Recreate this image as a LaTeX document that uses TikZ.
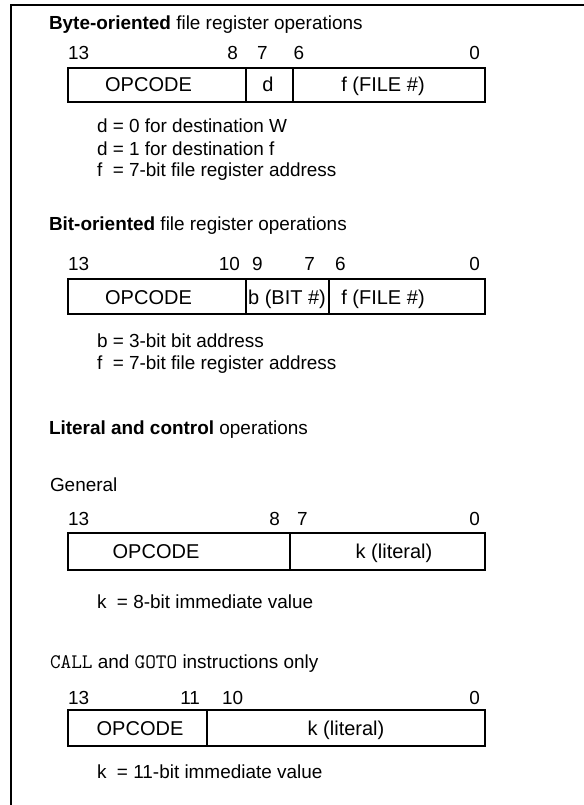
\documentclass[tikz,border=0pt]{standalone}
\usepackage{fontspec}
\setmainfont{Liberation Sans}
\begin{document}
\begin{tikzpicture}[x=0.75pt,y=-0.75pt,
  every node/.style={inner sep=0pt, outer sep=0pt, font=\fontsize{14.2}{17}\selectfont},
  cell/.style n args={2}{draw, line width=0.9pt, anchor=north west,
     minimum width=#1*0.75pt, minimum height=#2*0.75pt},
  ftext/.style={anchor=base, font=\fontsize{15}{18}\selectfont},
  bitl/.style={anchor=base west},
  bitr/.style={anchor=base east},
  ttl/.style={anchor=base west},
  note/.style={anchor=base west}]
\useasboundingbox (0,0) rectangle (584,805);
% frame
\coordinate (fb) at (11,805);
\coordinate (fc) at (11,5);
\coordinate (fr) at (584,5);
\draw[line width=1.6pt] (fb) -- (fc) -- (fr);

% ---- Byte-oriented
\node[ttl] (t1) at (49,30) {\textbf{Byte-oriented} file register operations};
\node[bitl] (a13) at (68,60) {13};
\node[bitr] (a8) at (238,60) {8};
\node[bitl] (a7) at (257,60) {7};
\node[bitl] (a6) at (293.5,60) {6};
\node[bitr] (a0) at (480,60) {0};
\node[cell={178}{34}] (c1a) at (68,68) {};
\node[cell={47}{34}] (c1b) at (c1a.north east) {};
\node[cell={192}{34}] (c1c) at (c1b.north east) {};
\node[ftext] (x1a) at (148.5,92) {OPCODE};
\node[ftext] (x1b) at (268,92) {d};
\node[ftext] (x1c) at (383,92) {f (FILE \#)};
\node[note] (n1a) at (97,133) {d = 0 for destination W};
\node[note] (n1b) at (97,156) {d = 1 for destination f};
\node[note] (n1c) at (97,177) {f~ = 7-bit file register address};

% ---- Bit-oriented
\node[ttl] (t2) at (49,231) {\textbf{Bit-oriented} file register operations};
\node[bitl] (b13) at (68,270) {13};
\node[bitr] (b10) at (240,270) {10};
\node[bitl] (b9) at (252,270) {9};
\node[bitr] (b7) at (315,270) {7};
\node[bitl] (b6) at (335,270) {6};
\node[bitr] (b0) at (480,270) {0};
\node[cell={178}{35}] (c2a) at (68,279) {};
\node[cell={83}{35}] (c2b) at (c2a.north east) {};
\node[cell={156}{35}] (c2c) at (c2b.north east) {};
\node[ftext] (x2a) at (148.5,304) {OPCODE};
\node[ftext] (x2b) at (287,304) {b (BIT \#)};
\node[ftext] (x2c) at (383,304) {f (FILE \#)};
\node[note] (n2a) at (97,347) {b = 3-bit bit address};
\node[note] (n2b) at (97,369) {f~ = 7-bit file register address};

% ---- Literal and control
\node[ttl] (t3) at (49,434) {\textbf{Literal and control} operations};
\node[ttl] (t3g) at (50,491) {General};
\node[bitl] (g13) at (68,525) {13};
\node[bitr] (g8) at (280,525) {8};
\node[bitl] (g7) at (297,525) {7};
\node[bitr] (g0) at (480,525) {0};
\node[cell={222}{37}] (c3a) at (68,533) {};
\node[cell={195}{37}] (c3b) at (c3a.north east) {};
\node[ftext] (x3a) at (156,558) {OPCODE};
\node[ftext] (x3b) at (394,558) {k (literal)};
\node[note] (n3a) at (97,608) {k~ = 8-bit immediate value};

% ---- CALL and GOTO
\node[ttl] (t4) at (50,668) {{\fontsize{15.5}{18}\ttfamily CALL} and {\fontsize{15.5}{18}\ttfamily GOTO} instructions only};
\node[bitl] (h13) at (68,704) {13};
\node[bitr] (h11) at (200,704) {11};
\node[bitl] (h10) at (222,704) {10};
\node[bitr] (h0) at (480,704) {0};
\node[cell={139}{36}] (c4a) at (68,710) {};
\node[cell={278}{36}] (c4b) at (c4a.north east) {};
\node[ftext] (x4a) at (140,735) {OPCODE};
\node[ftext] (x4b) at (346,735) {k (literal)};
\node[note] (n4a) at (97,778) {k~ = 11-bit immediate value};
\end{tikzpicture}
\end{document}
